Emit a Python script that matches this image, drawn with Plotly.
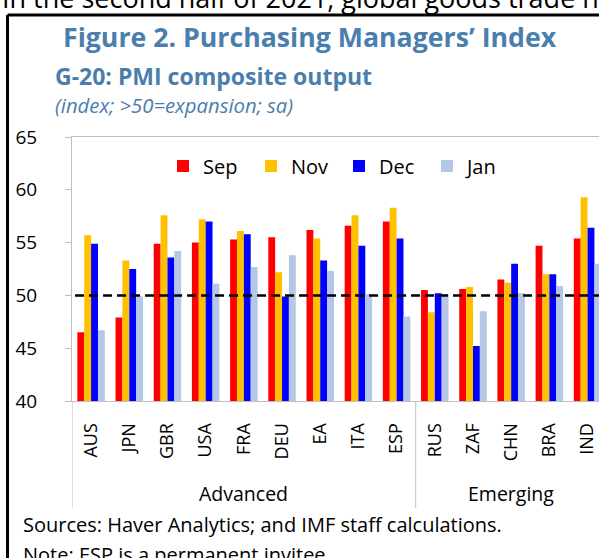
import plotly.graph_objects as go

categories = ["AUS", "JPN", "GBR", "USA", "FRA", "DEU", "EA", "ITA", "ESP",
              "RUS", "ZAF", "CHN", "BRA", "IND"]
sep = [46.5, 47.9, 54.9, 55.0, 55.3, 55.5, 56.2, 56.6, 57.0, 50.5, 50.6, 51.5, 54.7, 55.4]
nov = [55.7, 53.3, 57.6, 57.2, 56.1, 52.2, 55.4, 57.6, 58.3, 48.4, 50.8, 51.2, 52.0, 59.3]
dec = [54.9, 52.5, 53.6, 57.0, 55.8, 49.9, 53.3, 54.7, 55.4, 50.2, 45.2, 53.0, 52.0, 56.4]
jan = [46.7, 49.9, 54.2, 51.1, 52.7, 53.8, 52.3, 50.1, 48.0, 50.1, 48.5, 50.2, 50.9, 53.0]
series_names = ["Sep", "Nov", "Dec", "Jan"]
series_colors = ["#FF0000", "#FFC000", "#0000FF", "#B4C7E7"]
groups = [("Advanced", 0, 8), ("Emerging", 9, 13)]
threshold = 50
y_ticks = [40, 45, 50, 55, 60, 65]

FONT = "Open Sans"
BLUE = "#4A7EAD"
GREY = "#BFBFBF"

W, H = 599, 558
L, R, T, B = 72, 0, 137, 157
PW, PH = W - L - R, H - T - B

def px_x(p):
    return (p - L) / PW

def px_y(p):
    return (H - B - p) / PH

fig = go.Figure()
for name, vals, col in zip(series_names, [sep, nov, dec, jan], series_colors):
    fig.add_trace(go.Bar(name=name, x=categories, y=vals, marker_color=col,
                         marker_line_width=0))

fig.update_layout(
    width=W, height=H,
    margin=dict(l=L, r=R, t=T, b=B, pad=0),
    paper_bgcolor="white", plot_bgcolor="white",
    barmode="group", bargap=0.28, bargroupgap=0.0,
    font=dict(family=FONT, size=17, color="black"),
    showlegend=True,
    legend=dict(orientation="h", x=px_x(163), xanchor="left", y=px_y(166), yanchor="middle",
                font=dict(size=20, color="black"), bgcolor="rgba(0,0,0,0)",
                entrywidth=43, itemwidth=30, traceorder="normal"),
)
fig.update_xaxes(type="category", range=[-0.5, 13.3], showline=True, linecolor=GREY,
                 linewidth=1, mirror=True, ticks="", tickangle=-90,
                 tickfont=dict(size=18), ticklabelstandoff=14, showgrid=False,
                 zeroline=False)
fig.update_yaxes(range=[40, 65], tickvals=y_ticks, showline=True, linecolor=GREY,
                 linewidth=1, ticks="outside", ticklen=6, tickcolor=GREY,
                 tickfont=dict(size=19), ticklabelstandoff=24, showgrid=False,
                 zeroline=False)

# threshold line
fig.add_shape(type="line", xref="x", yref="y", x0=-0.42, x1=13.6, y0=threshold, y1=threshold,
              line=dict(color="black", width=2.5, dash="9px,5px"))

# group dividers and labels
for label, a, b in groups:
    fig.add_shape(type="line", xref="x", yref="paper", x0=a - 0.5, x1=a - 0.5,
                  y0=0, y1=px_y(508), line=dict(color=GREY, width=1))
    fig.add_annotation(text=label, xref="x", yref="paper", x=(a + b) / 2, y=px_y(493),
                       showarrow=False, font=dict(size=19.5), xanchor="center", yanchor="middle")

# frame of the document box
fig.add_shape(type="line", xref="paper", yref="paper", x0=px_x(7.5), x1=px_x(620),
              y0=px_y(15), y1=px_y(15), line=dict(color="black", width=3))
fig.add_shape(type="line", xref="paper", yref="paper", x0=px_x(7.5), x1=px_x(7.5),
              y0=px_y(15), y1=px_y(580), line=dict(color="black", width=3))

# texts
fig.add_annotation(text="In the second half of 2021, global goods trade has", xref="paper", yref="paper",
                   x=px_x(0), y=px_y(-2), xanchor="left", yanchor="middle", showarrow=False,
                   font=dict(size=27, color="black"))
fig.add_annotation(text="<b>Figure 2. Purchasing Managers’ Index</b>", xref="paper", yref="paper",
                   x=px_x(310), y=px_y(36), xanchor="center", yanchor="middle", showarrow=False,
                   font=dict(size=26.7, color=BLUE))
fig.add_annotation(text="<b>G-20: PMI composite output</b>", xref="paper", yref="paper",
                   x=px_x(54), y=px_y(76), xanchor="left", yanchor="middle", showarrow=False,
                   borderpad=0, font=dict(size=23, color=BLUE))
fig.add_annotation(text="<i>(index; >50=expansion; sa)</i>", xref="paper", yref="paper",
                   x=px_x(54), y=px_y(105), xanchor="left", yanchor="middle", showarrow=False,
                   borderpad=0, font=dict(size=20.3, color=BLUE))
fig.add_annotation(text="Sources: Haver Analytics; and IMF staff calculations.", xref="paper", yref="paper",
                   x=px_x(21), y=px_y(524), xanchor="left", yanchor="middle", showarrow=False,
                   font=dict(size=20, color="black"))
fig.add_annotation(text="Note: ESP is a permanent invitee.", xref="paper", yref="paper",
                   x=px_x(21), y=px_y(554), xanchor="left", yanchor="middle", showarrow=False,
                   font=dict(size=20, color="black"))

fig.write_html("out.html", config={"displayModeBar": False},
               post_script="document.body.style.margin='0';")
